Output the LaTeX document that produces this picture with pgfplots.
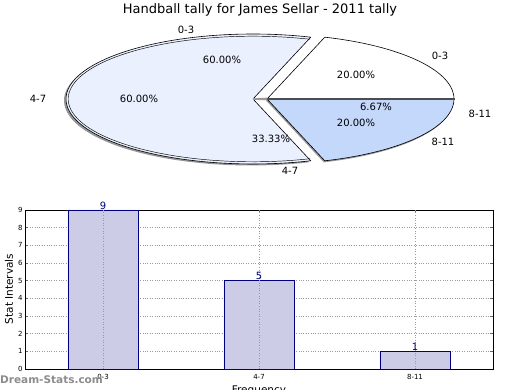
\documentclass[border=0pt]{standalone}
\usepackage{pgfplots}
\pgfplotsset{compat=1.18}
\usepackage{fontspec}
\setmainfont{DejaVu Sans}
\definecolor{sliceA}{RGB}{234,240,253}
\definecolor{sliceB}{RGB}{255,255,255}
\definecolor{sliceC}{RGB}{196,216,251}
\definecolor{barfill}{RGB}{204,204,230}
\definecolor{barline}{RGB}{0,0,128}
\definecolor{shadowgray}{RGB}{150,150,150}
\begin{document}
\begin{tikzpicture}[x=1pt,y=1pt]
\path[use as bounding box] (0pt,0pt) rectangle (520pt,390pt);
\node[font=\fontsize{13}{15}\selectfont] at (260pt,380pt) {Handball tally for James Sellar - 2011 tally};

% ---------------- pie (values in percent) ----------------
\def\vA{60}\def\vB{20}\def\vC{20}
\def\cxA{253}\def\cxB{267}\def\cy{291}\def\rx{187}\def\ry{65}
\pgfmathsetmacro\aS{180-1.8*\vA}
\pgfmathsetmacro\aE{180+1.8*\vA}
\pgfmathsetmacro\cE{\aE+3.6*\vC}
\pgfmathsetmacro\bE{\cE+3.6*\vB}
\begin{axis}[at={(0pt,0pt)}, anchor=south west, scale only axis,
  width=520pt, height=390pt, xmin=0, xmax=520, ymin=0, ymax=390,
  hide axis, clip=false]
% shadows
\fill[shadowgray] (\cxA-2,\cy-1.5) -- plot[domain=\aS:\aE, samples=90, variable=\t]
  ({\cxA-2+\rx*cos(\t)},{\cy-1.5+\ry*sin(\t)}) -- cycle;
\fill[shadowgray] (\cxB-1,\cy-1.5) -- plot[domain=\aE:\bE, samples=60, variable=\t]
  ({\cxB-1+\rx*cos(\t)},{\cy-1.5+\ry*sin(\t)}) -- cycle;
% 60% slice
\filldraw[fill=sliceA, draw=black, line width=0.6pt, line join=round] (\cxA,\cy) -- plot[domain=\aS:\aE, samples=90, variable=\t]
  ({\cxA+\rx*cos(\t)},{\cy+\ry*sin(\t)}) -- cycle;
\draw[black, line width=0.45pt] plot[domain=\aS:\aE, samples=90, variable=\t]
  ({\cxA+(\rx-2.2)*cos(\t)},{\cy+(\ry-2.2)*sin(\t)});
% lower right 20%
\filldraw[fill=sliceC, draw=black, line width=0.6pt, line join=round] (\cxB,\cy) -- plot[domain=\aE:\cE, samples=40, variable=\t]
  ({\cxB+\rx*cos(\t)},{\cy+\ry*sin(\t)}) -- cycle;
% upper right 20%
\filldraw[fill=sliceB, draw=black, line width=0.6pt, line join=round] (\cxB,\cy) -- plot[domain=\cE:\bE, samples=40, variable=\t]
  ({\cxB+\rx*cos(\t)},{\cy+\ry*sin(\t)}) -- cycle;
% thin 6.67% slice seen edge-on
\fill[black!70] (\cxB,\cy-1.3) rectangle (\cxB+\rx+1,\cy+1.3);
\fill[black!40] (\cxA,\cy-0.8) -- (\cxB,\cy-1.3) -- (\cxB,\cy+1.3) -- (\cxA,\cy+0.8) -- cycle;
\end{axis}

\begin{scope}[font=\fontsize{10}{12}\selectfont]
\node at (186pt,360pt) {0-3};
\node at (222pt,330pt) {60.00\%};
\node at (440pt,334pt) {0-3};
\node at (356pt,315pt) {20.00\%};
\node at (38pt,291pt) {4-7};
\node at (139pt,291pt) {60.00\%};
\node at (376pt,283pt) {6.67\%};
\node at (480pt,276pt) {8-11};
\node at (356pt,267pt) {20.00\%};
\node at (271pt,251pt) {33.33\%};
\node at (443pt,248pt) {8-11};
\node at (290pt,219pt) {4-7};
\end{scope}

% ---------------- bar chart ----------------
\begin{axis}[at={(25pt,21pt)}, anchor=south west, scale only axis,
  width=468pt, height=159pt,
  xmin=-0.5, xmax=2.5, ymin=0, ymax=9,
  xtick={0,1,2}, xticklabels={0-3,4-7,8-11},
  ytick={0,1,2,3,4,5,6,7,8,9},
  ymajorgrids, grid style={dotted, line width=0.6pt, black!40},
  tick align=inside, major tick length=3pt,
  tick style={black!60, thin},
  ticklabel style={font=\fontsize{7}{8}\selectfont},
  /pgf/number format/assume math mode=true,
  xticklabel style={yshift=-2pt},
  yticklabel style={xshift=1pt},
  axis line style={black, line width=0.8pt},
  clip=false]
\addplot[ybar, bar width=0.45, fill=barfill, draw=barline, line width=0.6pt,
  nodes near coords, nodes near coords style={font=\fontsize{10}{12}\selectfont, color=barline, anchor=south, inner sep=0.5pt}]
  coordinates {(0,9) (1,5) (2,1)};
\draw[dotted, line width=0.6pt, black!40] (axis cs:0,0) -- (axis cs:0,9);
\draw[dotted, line width=0.6pt, black!40] (axis cs:1,0) -- (axis cs:1,9);
\draw[dotted, line width=0.6pt, black!40] (axis cs:2,0) -- (axis cs:2,9);
\end{axis}
\node[font=\fontsize{10.5}{12}\selectfont, rotate=90] at (9pt,101pt) {Stat Intervals};
\node[font=\fontsize{10.5}{12}\selectfont, anchor=north] at (259pt,7.5pt) {Frequency};
\node[font=\bfseries\fontsize{10.5}{12}\selectfont, text=black!45, anchor=west, inner sep=0pt] at (0pt,10pt) {Dream-Stats.com};
\end{tikzpicture}
\end{document}
